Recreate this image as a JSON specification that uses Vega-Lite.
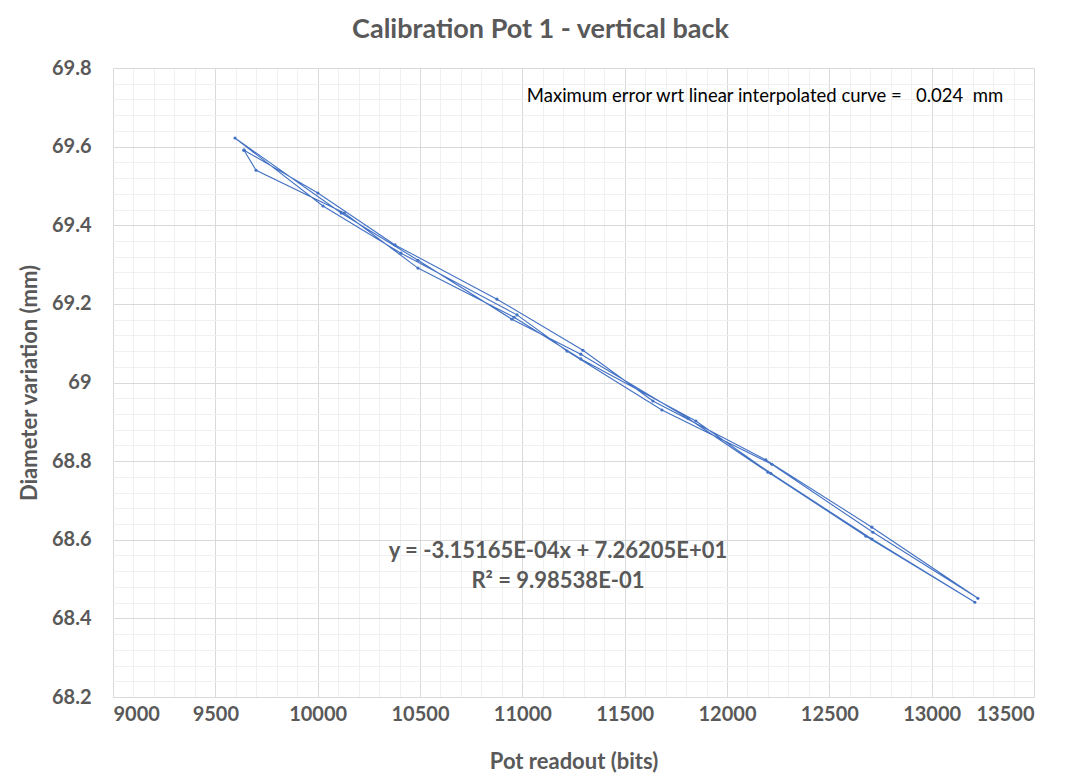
{
  "$schema": "https://vega.github.io/schema/vega-lite/v6.json",
  "width": 921,
  "height": 629,
  "autosize": {"type": "none"},
  "padding": {"left": 113, "top": 68, "right": 37, "bottom": 83},
  "background": "#ffffff",
  "config": {
    "view": {"stroke": null},
    "font": "Lato",
    "axis": {"ticks": false, "domain": false}
  },
  "title": {
    "text": "Calibration Pot 1 - vertical back",
    "font": "Lato",
    "fontSize": 27,
    "fontWeight": "bold",
    "color": "#595959",
    "anchor": "middle",
    "dx": -33,
    "offset": 14
  },
  "datasets": {
    "readings": [
      {"step": 1, "bits": 9640, "mm": 69.591},
      {"step": 2, "bits": 10001, "mm": 69.482},
      {"step": 3, "bits": 10378, "mm": 69.350},
      {"step": 4, "bits": 10876, "mm": 69.212},
      {"step": 5, "bits": 11296, "mm": 69.082},
      {"step": 6, "bits": 11638, "mm": 68.953},
      {"step": 7, "bits": 12190, "mm": 68.803},
      {"step": 8, "bits": 12708, "mm": 68.632},
      {"step": 9, "bits": 13226, "mm": 68.451},
      {"step": 10, "bits": 12713, "mm": 68.619},
      {"step": 11, "bits": 12219, "mm": 68.792},
      {"step": 12, "bits": 11682, "mm": 68.930},
      {"step": 13, "bits": 11218, "mm": 69.080},
      {"step": 14, "bits": 10974, "mm": 69.172},
      {"step": 15, "bits": 10407, "mm": 69.329},
      {"step": 16, "bits": 10026, "mm": 69.449},
      {"step": 17, "bits": 9596, "mm": 69.622},
      {"step": 18, "bits": 10115, "mm": 69.431},
      {"step": 19, "bits": 10490, "mm": 69.311},
      {"step": 20, "bits": 10949, "mm": 69.161},
      {"step": 21, "bits": 11286, "mm": 69.072},
      {"step": 22, "bits": 11809, "mm": 68.909},
      {"step": 23, "bits": 12200, "mm": 68.772},
      {"step": 24, "bits": 12679, "mm": 68.609},
      {"step": 25, "bits": 13211, "mm": 68.441},
      {"step": 26, "bits": 12708, "mm": 68.602},
      {"step": 27, "bits": 12214, "mm": 68.769},
      {"step": 28, "bits": 11848, "mm": 68.902},
      {"step": 29, "bits": 11286, "mm": 69.060},
      {"step": 30, "bits": 10960, "mm": 69.166},
      {"step": 31, "bits": 10490, "mm": 69.291},
      {"step": 32, "bits": 10130, "mm": 69.431},
      {"step": 33, "bits": 9699, "mm": 69.540},
      {"step": 34, "bits": 9640, "mm": 69.591}
    ],
    "note": [
      {"bits": 11022, "mm": 69.729, "label": "Maximum error wrt linear interpolated curve =\u00a0\u00a0\u00a00.024\u00a0\u00a0mm"}
    ],
    "fit": [
      {"bits": 11174, "mm": 68.571, "label": "y = -3.15165E-04x + 7.26205E+01"},
      {"bits": 11174, "mm": 68.495, "label": "R² = 9.98538E-01"}
    ]
  },
  "layer": [
    {
      "data": {"name": "readings"},
      "mark": {"type": "line", "color": "#4472C4", "strokeWidth": 1.1},
      "encoding": {
        "x": {
          "field": "bits", "type": "quantitative",
          "scale": {"domain": [9000, 13500], "nice": false, "zero": false},
          "axis": {
            "orient": "bottom",
            "values": [9000, 9100, 9200, 9300, 9400, 9500, 9600, 9700, 9800, 9900, 10000, 10100, 10200, 10300, 10400, 10500, 10600, 10700, 10800, 10900, 11000, 11100, 11200, 11300, 11400, 11500, 11600, 11700, 11800, 11900, 12000, 12100, 12200, 12300, 12400, 12500, 12600, 12700, 12800, 12900, 13000, 13100, 13200, 13300, 13400, 13500],
            "grid": true, "gridColor": "#f0f0f0", "gridWidth": 1,
            "labels": false, "title": null
          }
        },
        "y": {
          "field": "mm", "type": "quantitative",
          "scale": {"domain": [68.2, 69.8], "nice": false, "zero": false},
          "axis": {
            "orient": "left",
            "values": [68.2, 68.24, 68.28, 68.32, 68.36, 68.4, 68.44, 68.48, 68.52, 68.56, 68.6, 68.64, 68.68, 68.72, 68.76, 68.8, 68.84, 68.88, 68.92, 68.96, 69, 69.04, 69.08, 69.12, 69.16, 69.2, 69.24, 69.28, 69.32, 69.36, 69.4, 69.44, 69.48, 69.52, 69.56, 69.6, 69.64, 69.68, 69.72, 69.76, 69.8],
            "grid": true, "gridColor": "#f0f0f0", "gridWidth": 1,
            "labels": false, "title": null
          }
        },
        "order": {"field": "step", "type": "quantitative"}
      }
    },
    {
      "data": {"name": "readings"},
      "mark": {"type": "point", "filled": true, "color": "#4472C4", "size": 10, "opacity": 1},
      "encoding": {
        "x": {
          "field": "bits", "type": "quantitative",
          "axis": {
            "orient": "bottom",
            "values": [9000, 9500, 10000, 10500, 11000, 11500, 12000, 12500, 13000, 13500],
            "format": "d",
            "grid": true, "gridColor": "#d9d9d9", "gridWidth": 1,
            "labelFont": "Lato", "labelFontSize": 20, "labelFontWeight": "bold", "labelColor": "#595959",
            "labelPadding": 7,
            "title": "Pot readout (bits)",
            "titleFont": "Lato", "titleFontSize": 22, "titleFontWeight": "bold", "titleColor": "#595959",
            "titlePadding": 27
          }
        },
        "y": {
          "field": "mm", "type": "quantitative",
          "axis": {
            "orient": "left",
            "values": [68.2, 68.4, 68.6, 68.8, 69, 69.2, 69.4, 69.6, 69.8],
            "format": "~g",
            "grid": true, "gridColor": "#d9d9d9", "gridWidth": 1,
            "labelFont": "Lato", "labelFontSize": 20, "labelFontWeight": "bold", "labelColor": "#595959",
            "labelPadding": 22,
            "title": "Diameter variation (mm)",
            "titleFont": "Lato", "titleFontSize": 22, "titleFontWeight": "bold", "titleColor": "#595959",
            "titlePadding": 10
          }
        }
      }
    },
    {
      "data": {"name": "note"},
      "mark": {"type": "text", "align": "left", "baseline": "middle", "font": "Lato", "fontSize": 18.5, "color": "#000000"},
      "encoding": {
        "x": {"field": "bits", "type": "quantitative", "axis": null},
        "y": {"field": "mm", "type": "quantitative", "axis": null},
        "text": {"field": "label"}
      }
    },
    {
      "data": {"name": "fit"},
      "mark": {"type": "text", "align": "center", "baseline": "middle", "font": "Lato", "fontSize": 22, "fontWeight": "bold", "color": "#595959"},
      "encoding": {
        "x": {"field": "bits", "type": "quantitative", "axis": null},
        "y": {"field": "mm", "type": "quantitative", "axis": null},
        "text": {"field": "label"}
      }
    }
  ],
  "resolve": {"axis": {"x": "independent", "y": "independent"}}
}
